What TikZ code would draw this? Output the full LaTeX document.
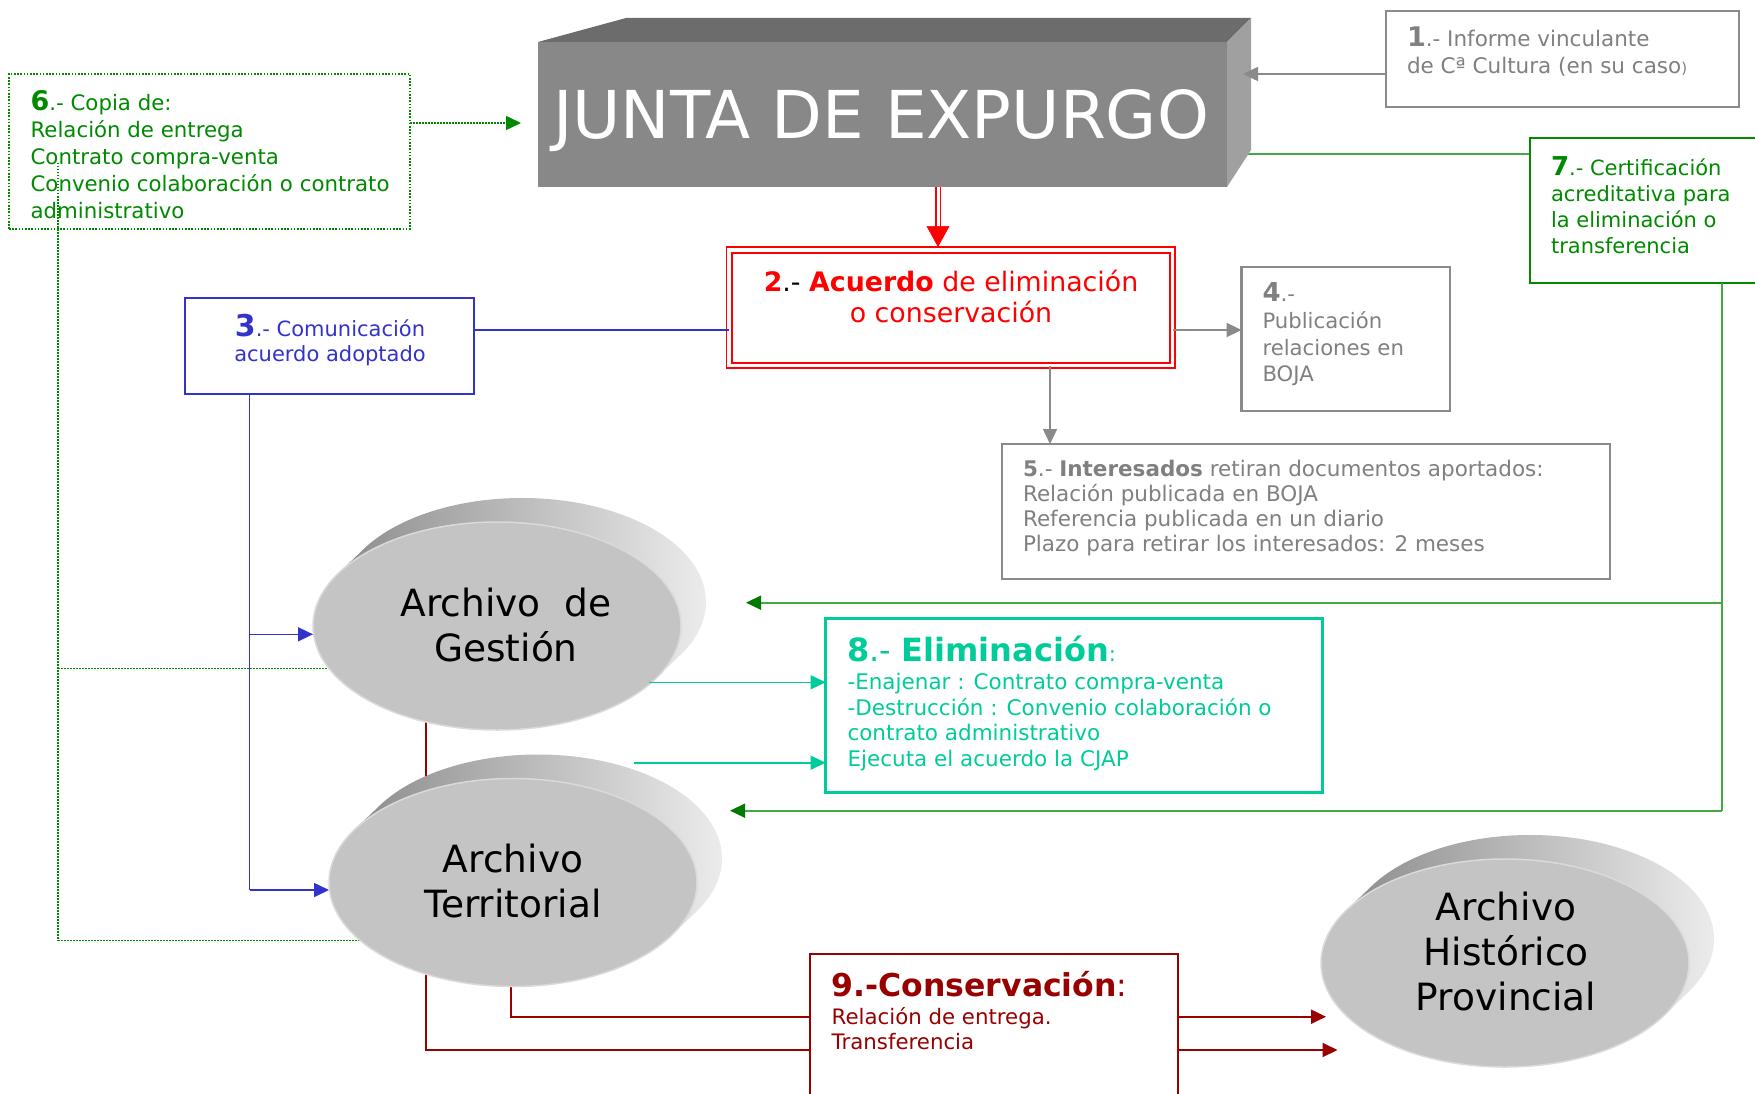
\documentclass[tikz,border=0pt]{standalone}
\usepackage{fontspec}
\setmainfont{DejaVu Sans}
\usetikzlibrary{shapes.geometric,arrows.meta,calc}
\pgfdeclarelayer{bgfill}
\pgfdeclarelayer{lines}
\pgfsetlayers{bgfill,lines,main}
\definecolor{cgray}{HTML}{808080}
\definecolor{cgrayline}{HTML}{8A8A8A}
\definecolor{cblue}{HTML}{3333CC}
\definecolor{cred}{HTML}{FF0000}
\definecolor{cgreen}{HTML}{008A00}
\definecolor{cgreenline}{HTML}{44A844}
\definecolor{cgreentip}{HTML}{007A00}
\definecolor{cteal}{HTML}{00CC99}
\definecolor{cdred}{HTML}{990000}
\definecolor{jfront}{HTML}{888888}
\definecolor{jtop}{HTML}{6C6C6C}
\definecolor{jside}{HTML}{A0A0A0}
\definecolor{ellfront}{HTML}{C4C4C4}
\definecolor{ellrim}{HTML}{DADADA}
\newcommand{\fs}[2]{\fontsize{#1}{#2}\selectfont}
\newcommand{\ellextr}[3]{%
  \shade[left color=black!50, right color=black!5]
    ($(#1)+(#3:184pt and 104pt)$) -- ++(25pt,24pt)
    arc[start angle=#3, end angle=#2, x radius=184pt, y radius=104pt]
    -- ++(-25pt,-24pt)
    arc[start angle=#2, end angle=#2-180, x radius=184pt, y radius=104pt] -- cycle;}
\tikzset{
  boxx/.style={draw, line width=2.2pt, anchor=north west, inner sep=0, outer sep=0},
  txt/.style={inner sep=0, outer sep=0, anchor=base west, align=left},
  ctxt/.style={inner sep=0, outer sep=0, anchor=base, align=center},
  tipS/.style={-{Triangle[length=15pt,width=14pt]}},
  ln/.style={line width=1.6pt},
  ellnode/.style={ellipse, fill=ellfront, draw=ellrim, line width=1.5pt,
    minimum width=368pt, minimum height=208pt, inner sep=0},
}
\begin{document}
\begin{tikzpicture}[x=1pt,y=-1pt]
\useasboundingbox (0,0) rectangle (1755,1094);
\begin{pgfonlayer}{bgfill}
\fill[white] (0,0) rectangle (1755,1094);
\end{pgfonlayer}
\clip (0,0) rectangle (1755,1094);

% ---------- JUNTA DE EXPURGO block ----------
\node[anchor=north west, fill=jfront, minimum width=689pt, minimum height=145pt,
      inner sep=0, outer sep=0] (J) at (538,42) {};
\fill[jtop] (J.north west) -- ($(J.north west)+(88,-24)$) -- ($(J.north east)+(24,-24)$) -- (J.north east) -- cycle;
\fill[jside] (J.north east) -- ($(J.north east)+(24,-24)$) -- ($(J.north east)+(24,108)$) -- (J.south east) -- cycle;
\node[ctxt, text=white, font=\fs{66}{66}] (jt) at (881,139) {JUNTA DE EXPURGO};

% ---------- ellipses (archives) ----------
\coordinate (gc) at (497,626);
\coordinate (tc) at (513,882.5);
\coordinate (hc) at (1505,963);
\ellextr{gc}{-31.7}{148.3}
\node[ellnode] (G) at (gc) {};
\ellextr{tc}{-30.5}{149.5}
\node[ellnode] (T) at (tc) {};
\ellextr{hc}{-30.5}{149.5}
\node[ellnode] (H) at (hc) {};
\node[ctxt, font=\fs{37.5}{45}] (gt) at (506,661.7) {Archivo\ \ de\\Gestión};
\node[ctxt, font=\fs{37.5}{44.6}] (tt) at (513,917.3) {Archivo\\Territorial};
\node[ctxt, font=\fs{37.5}{45}] (ht) at (1506,1010) {Archivo\\Histórico\\Provincial};

% ---------- boxes ----------
\node[boxx, draw=cgrayline, minimum width=353pt, minimum height=96pt] (b1) at (1386,11) {};
\node[txt, text=cgray, font=\fs{21.5}{27.3}] (t1) at (1407,74)
  {{\fs{27}{27}\bfseries 1}.- Informe vinculante\\de Cª Cultura (en su caso{\fs{15}{15})}};

\node[boxx, draw=cgreen, line width=1.6pt, dash pattern=on 1.6pt off 1.6pt,
      minimum width=401pt, minimum height=155pt] (b6) at (9,74) {};
\node[txt, text=cgreen, font=\fs{21.3}{27}] (t6) at (30.6,218.3)
  {{\fs{27}{27}\bfseries 6}.- Copia de:\\Relación de entrega\\Contrato compra-venta\\Convenio colaboración o contrato\\administrativo};

\node[boxx, draw=cgreen, line width=2pt, fill=white, minimum width=260pt, minimum height=145pt] (b7) at (1530,138) {};
\node[txt, text=cgreen, font=\fs{21}{26}] (t7) at (1551,253.3)
  {{\fs{26}{26}\bfseries 7}.- Certificación\\acreditativa para\\la eliminación o\\transferencia};

\node[draw=cred, double=white, double distance=3.7pt, line width=1.8pt, anchor=north west,
      inner sep=0, outer sep=0, minimum width=443.3pt, minimum height=115.5pt] (A2) at (729.2,250) {};
\node[ctxt, text=cred, font=\fs{26.8}{31}] (t2) at (951,322)
  {{\bfseries 2}{\color{black}.-} {\bfseries Acuerdo} de eliminación\\o conservación};

\node[boxx, draw=cblue, line width=2pt, minimum width=288.9pt, minimum height=96pt] (b3) at (185.3,298.3) {};
\node[ctxt, text=cblue, font=\fs{21}{25.7}] (t3) at (330,361.7)
  {{\fs{30}{25.7}\bfseries 3}.- Comunicación\\acuerdo adoptado};

\node[boxx, draw=cgrayline, line width=2.4pt, minimum width=208.1pt, minimum height=144pt] (b4) at (1241.6,266.7) {};
\node[txt, text=cgray, font=\fs{21.2}{26.7}] (t4) at (1262.5,381.7)
  {{\fs{26}{26}\bfseries 4}.-\\Publicación\\relaciones en\\BOJA};

\node[boxx, draw=cgrayline, line width=2.4pt, minimum width=608pt, minimum height=135pt] (b5) at (1002,444) {};
\node[txt, text=cgray, font=\fs{21.5}{25}] (t5) at (1023,551.7)
  {{\bfseries 5}.- {\bfseries Interesados} retiran documentos aportados:\\Relación publicada en BOJA\\Referencia publicada en un diario\\Plazo para retirar los interesados: 2 meses};

\node[boxx, draw=cteal, line width=2.4pt, fill=white, minimum width=496.9pt, minimum height=174pt] (b8) at (825.6,618.3) {};
\node[txt, text=cteal, font=\fs{32}{32}] (t8a) at (847.5,661)
  {{\bfseries 8}.- {\bfseries Eliminación}{\fs{21}{21}:}};
\node[txt, text=cteal, font=\fs{21.5}{25.4}] (t8b) at (847.5,766)
  {-Enajenar : Contrato compra-venta\\-Destrucción : Convenio colaboración o\\contrato administrativo\\Ejecuta el acuerdo la CJAP};

\node[boxx, draw=cdred, line width=2pt, fill=white, minimum width=367.9pt, minimum height=200pt] (b9) at (810.4,954.3) {};
\node[txt, text=cdred, font=\fs{31.5}{31.5}] (t9a) at (831.7,996.7)
  {{\bfseries 9.-Conservación}:};
\node[txt, text=cdred, font=\fs{21.3}{25}] (t9b) at (831.7,1049.3)
  {Relación de entrega.\\Transferencia};

% ---------- named coordinates ----------
\coordinate (a1) at (1243,74);
\coordinate (d6a) at (521,123);
\coordinate (d6) at (58,163);
\coordinate (dg1) at (0,668.3);
\coordinate (dg2) at (0,940.7);
\coordinate (rx) at (938,0);
\coordinate (yb) at (0,330);
\coordinate (x5) at (1050,0);
\coordinate (bx) at (249.6,0);
\coordinate (ga) at (313,634.3);
\coordinate (ta) at (329,890);
\coordinate (gl) at (0,154);
\coordinate (gx) at (1722,0);
\coordinate (gt1) at (746,602.7);
\coordinate (gt2) at (730,810.7);
\coordinate (r1x) at (426,0);
\coordinate (r2x) at (510.7,0);
\coordinate (r1t) at (1337.5,1050);
\coordinate (r2t) at (1326,1016.7);
\coordinate (e1) at (649,682.3);
\coordinate (e2) at (633.5,762.7);

% ---------- connectors under shapes ----------
\begin{pgfonlayer}{lines}
\draw[cgreen, line width=1.5pt, dash pattern=on 1.5pt off 1.5pt] (d6) -- (d6 |- dg2);
\draw[cgreen, line width=1.5pt, dash pattern=on 1.5pt off 1.5pt] (d6 |- dg1) -- (G.center |- dg1);
\draw[cgreen, line width=1.5pt, dash pattern=on 1.5pt off 1.5pt] (d6 |- dg2) -- (T.center |- dg2);
\draw[cdred, line width=2pt, tipS] (G.center -| r1x) |- (r1t);
\draw[cdred, line width=2pt, tipS] (T.center -| r2x) |- (r2t);
\draw[cgreenline, ln] (J.east |- gl) -- (b7.west |- gl);
\end{pgfonlayer}

% ---------- connectors ----------
\draw[cgrayline, ln, tipS] (b1.west |- a1) -- (a1);
\draw[cgreen, line width=1.5pt, dash pattern=on 1.5pt off 1.5pt,
      -{Triangle[length=15pt,width=14pt,sep=0pt]}] (b6.east |- d6a) -- (d6a);
\draw[cred, line width=1.3pt, double=white, double distance=3pt]
  (J.south -| rx) -- ($(A2.north -| rx)+(0,-19)$);
\draw[cred, line width=0.5pt, -{Triangle[length=21pt,width=23pt]}]
  ($(A2.north -| rx)+(0,-22)$) -- ($(A2.north -| rx)+(0,-3)$);
\draw[cblue, ln] (b3.east |- yb) -- (A2.west |- yb);
\draw[cgrayline, ln, tipS] (A2.east |- yb) -- (b4.west |- yb);
\draw[cgrayline, ln, tipS] (A2.south -| x5) -- (b5.north -| x5);
\draw[cblue, ln] (b3.south -| bx) -- (bx |- ta);
\draw[cblue, ln, tipS] (bx |- ga) -- (ga);
\draw[cblue, ln, tipS] (bx |- ta) -- (ta);
\draw[cgreenline, ln] (b7.south -| gx) -- (gx |- gt2);
\draw[cgreenline, ln, -{Triangle[length=15pt,width=14pt,color=cgreentip]}] (gx |- gt1) -- (gt1);
\draw[cgreenline, ln, -{Triangle[length=15pt,width=14pt,color=cgreentip]}] (gx |- gt2) -- (gt2);
\draw[cteal, ln, tipS] (e1) -- (b8.west |- e1);
\draw[cteal, ln, tipS] (e2) -- (b8.west |- e2);
\end{tikzpicture}
\end{document}
